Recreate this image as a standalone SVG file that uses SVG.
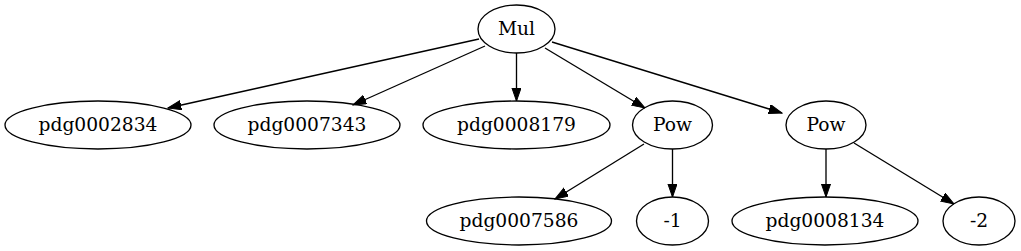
<svg xmlns="http://www.w3.org/2000/svg" width="1021" height="251" viewBox="0 0 1021 251">
<style>
.n ellipse{fill:none;stroke:#000;stroke-width:1.33}
.n text{font-family:"DejaVu Serif","Liberation Serif",serif;font-size:18.67px;text-anchor:middle;fill:#000}
.e line{stroke:#000;stroke-width:1.33;marker-end:url(#ah)}
</style>
<defs>
<marker id="ah" markerUnits="userSpaceOnUse" markerWidth="14" markerHeight="10" refX="13.3" refY="4.67" orient="auto">
<path d="M0,0 L13.3,4.67 L0,9.33 Z" fill="#000" stroke="#000" stroke-width="1"/>
</marker>
</defs>
<rect width="1021" height="251" fill="#fff"/>
<g id="edges" class="e">
<line x1="479" y1="39" x2="168" y2="108"/>
<line x1="485" y1="46" x2="353" y2="105"/>
<line x1="516.5" y1="53" x2="516.5" y2="101"/>
<line x1="545" y1="48" x2="645" y2="108"/>
<line x1="552" y1="42" x2="782" y2="113"/>
<line x1="644" y1="144" x2="555" y2="199"/>
<line x1="672.5" y1="149" x2="672.5" y2="197"/>
<line x1="826" y1="149" x2="826" y2="197"/>
<line x1="854" y1="143" x2="954" y2="204"/>
</g>
<g id="mul" class="n"><ellipse cx="516.5" cy="29" rx="38.5" ry="24"/><text x="516.5" y="35">Mul</text></g>
<g id="pdg0002834" class="n"><ellipse cx="98" cy="125" rx="93" ry="24"/><text x="98" y="131">pdg0002834</text></g>
<g id="pdg0007343" class="n"><ellipse cx="307" cy="125" rx="93" ry="24"/><text x="307" y="131">pdg0007343</text></g>
<g id="pdg0008179" class="n"><ellipse cx="516.5" cy="125" rx="93.5" ry="24"/><text x="516.5" y="131">pdg0008179</text></g>
<g id="pow1" class="n"><ellipse cx="672.5" cy="125" rx="40" ry="24"/><text x="672.5" y="131">Pow</text></g>
<g id="pow2" class="n"><ellipse cx="826" cy="125" rx="40" ry="24"/><text x="826" y="131">Pow</text></g>
<g id="pdg0007586" class="n"><ellipse cx="519" cy="221" rx="92.5" ry="24"/><text x="519" y="227">pdg0007586</text></g>
<g id="m1" class="n"><ellipse cx="672.5" cy="221" rx="36" ry="24"/><text x="672.5" y="227">-1</text></g>
<g id="pdg0008134" class="n"><ellipse cx="825" cy="221" rx="93" ry="24"/><text x="825" y="227">pdg0008134</text></g>
<g id="m2" class="n"><ellipse cx="979" cy="221" rx="36" ry="24"/><text x="979" y="227">-2</text></g>
</svg>
